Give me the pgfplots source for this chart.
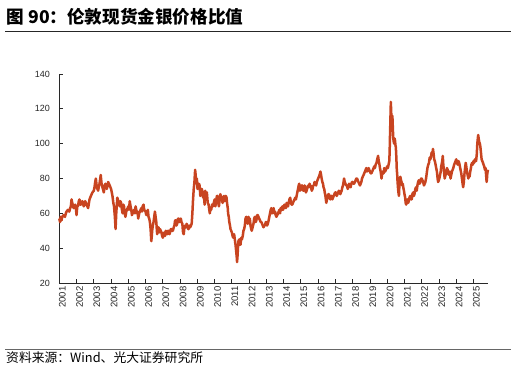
\documentclass[border=0pt]{standalone}
\usepackage{pgfplots}
\pgfplotsset{compat=1.18}
\usepackage{fontspec}
\setmainfont{Liberation Sans}
\newfontfamily\cjk{Noto Sans CJK SC}
\definecolor{goldred}{RGB}{200,68,32}
\definecolor{axisgray}{RGB}{40,40,40}
\begin{document}
\begin{tikzpicture}
\useasboundingbox (0pt,0pt) rectangle (516pt,-367pt);
\node[anchor=base west,inner sep=0pt] at (6.5pt,-23pt) {\cjk\bfseries\fontsize{17.6}{17.6}\selectfont 图 90：伦敦现货金银价格比值};
\draw[line width=1pt,black!85] (5pt,-31.7pt) -- (511pt,-31.7pt);
\draw[line width=0.8pt,black!60] (5pt,-349pt) -- (511pt,-349pt);
\node[anchor=base west,inner sep=0pt] at (6pt,-362pt) {\cjk\fontsize{12.8}{12.8}\selectfont 资料来源：Wind、光大证券研究所};
\begin{axis}[
  at={(59.3pt,-283pt)}, anchor=south west,
  scale only axis, width=428.7pt, height=209pt,
  xmin=2001, xmax=2025.84, ymin=20, ymax=140,
  ytick={20,40,60,80,100,120,140},
  xtick={2001,2002,...,2025},
  axis x line*=bottom, axis y line*=left,
  axis line style={axisgray,line width=0.8pt,-},
  tick style={axisgray,line width=0.8pt},
  tick align=inside, major tick length=4pt,
  /pgf/number format/assume math mode=true,
  /pgf/number format/1000 sep={},
  yticklabel style={font=\fontsize{9}{9}\selectfont,xshift=-6pt,text=black!85},
  xticklabel style={font=\fontsize{9.5}{9.5}\selectfont,rotate=90,anchor=east,yshift=-3pt,text=black!85},
  clip=false,
]
\addplot[goldred,line width=2.5pt,line join=round] coordinates {
(2001.00,57) (2001.04,55) (2001.08,58) (2001.13,56) (2001.17,58) (2001.25,59) (2001.33,58) (2001.38,60) (2001.42,61) (2001.50,62)
(2001.58,61) (2001.63,63) (2001.67,64) (2001.71,68) (2001.75,66) (2001.83,63) (2001.92,65) (2001.97,62) (2002.00,59) (2002.04,64)
(2002.08,64) (2002.13,67) (2002.17,68) (2002.21,65) (2002.25,65) (2002.33,67) (2002.42,64) (2002.50,67) (2002.58,65) (2002.67,63)
(2002.75,68) (2002.83,70) (2002.92,72) (2003.00,73) (2003.04,75) (2003.08,78) (2003.12,80) (2003.17,75) (2003.25,73) (2003.30,76)
(2003.33,77) (2003.40,82) (2003.45,77) (2003.50,75) (2003.58,72) (2003.63,76) (2003.67,77) (2003.75,74) (2003.80,76) (2003.83,78)
(2003.92,76) (2004.00,74) (2004.08,70) (2004.13,66) (2004.17,64) (2004.22,58) (2004.26,51) (2004.30,60) (2004.36,69) (2004.42,67)
(2004.50,64) (2004.54,67) (2004.58,66) (2004.63,62) (2004.67,60) (2004.71,65) (2004.75,64) (2004.79,60) (2004.83,58) (2004.88,61)
(2004.92,62) (2005.00,64) (2005.04,62) (2005.08,67) (2005.13,64) (2005.17,62) (2005.21,59) (2005.25,60) (2005.33,62) (2005.38,60)
(2005.42,64) (2005.50,60) (2005.54,61) (2005.57,57) (2005.63,60) (2005.67,61) (2005.75,63) (2005.79,61) (2005.83,64) (2005.88,65)
(2005.92,62) (2006.00,61) (2006.04,59) (2006.08,60) (2006.13,62) (2006.17,58) (2006.21,57) (2006.25,55) (2006.29,51) (2006.33,44)
(2006.36,47) (2006.38,50) (2006.42,53) (2006.46,55) (2006.50,58) (2006.54,61) (2006.58,58) (2006.62,55) (2006.67,48) (2006.71,51)
(2006.75,52) (2006.79,49) (2006.83,51) (2006.88,50) (2006.92,49) (2006.96,47) (2007.00,46) (2007.04,48) (2007.08,49) (2007.13,47)
(2007.17,50) (2007.21,49) (2007.25,48) (2007.29,50) (2007.33,50) (2007.38,48) (2007.42,49) (2007.46,51) (2007.50,51) (2007.54,50)
(2007.58,50) (2007.63,52) (2007.67,53) (2007.71,56) (2007.75,56) (2007.79,53) (2007.83,54) (2007.88,57) (2007.92,57) (2007.96,55)
(2008.00,56) (2008.04,57) (2008.08,55) (2008.13,54) (2008.17,49) (2008.21,48) (2008.25,52) (2008.29,53) (2008.33,52) (2008.38,54)
(2008.42,53) (2008.46,51) (2008.50,51) (2008.54,53) (2008.58,52) (2008.63,53) (2008.67,54) (2008.71,60) (2008.75,68) (2008.79,74)
(2008.83,78) (2008.87,85) (2008.90,82) (2008.94,77) (2008.97,80) (2009.01,74) (2009.05,75) (2009.09,77) (2009.13,76) (2009.17,70)
(2009.22,71) (2009.26,74) (2009.30,72) (2009.34,69) (2009.38,70) (2009.42,65) (2009.45,73) (2009.50,70) (2009.55,72) (2009.60,66)
(2009.65,65) (2009.69,62) (2009.72,60) (2009.76,63) (2009.80,62) (2009.85,65) (2009.90,64) (2009.95,66) (2010.00,68) (2010.04,64)
(2010.08,66) (2010.13,70) (2010.17,70) (2010.21,66) (2010.25,64) (2010.29,68) (2010.33,71) (2010.38,69) (2010.42,68) (2010.46,66)
(2010.50,69) (2010.54,70) (2010.58,67) (2010.62,69) (2010.65,70) (2010.69,69) (2010.72,66) (2010.76,63) (2010.78,60) (2010.82,58)
(2010.85,55) (2010.89,53) (2010.92,51) (2010.96,50) (2011.00,49) (2011.04,47) (2011.08,46) (2011.13,48) (2011.17,45) (2011.21,42)
(2011.25,38) (2011.28,35) (2011.30,32) (2011.33,36) (2011.35,40) (2011.38,44) (2011.42,45) (2011.46,42) (2011.50,42) (2011.54,46)
(2011.58,45) (2011.63,47) (2011.67,50) (2011.71,51) (2011.75,53) (2011.79,57) (2011.83,58) (2011.88,55) (2011.92,54) (2011.96,58)
(2012.00,56) (2012.04,57) (2012.08,53) (2012.12,51) (2012.15,50) (2012.20,52) (2012.25,54) (2012.29,57) (2012.33,58) (2012.38,55)
(2012.42,56) (2012.46,59) (2012.50,59) (2012.54,58) (2012.58,57) (2012.63,56) (2012.67,55) (2012.71,55) (2012.75,54) (2012.79,53)
(2012.83,52) (2012.88,53) (2012.92,53) (2012.96,55) (2013.00,55) (2013.04,53) (2013.08,54) (2013.13,56) (2013.17,58) (2013.21,60)
(2013.25,62) (2013.29,63) (2013.33,60) (2013.38,61) (2013.42,63) (2013.46,60) (2013.50,61) (2013.54,59) (2013.58,58) (2013.63,59)
(2013.67,60) (2013.71,61) (2013.75,62) (2013.79,60) (2013.83,63) (2013.88,62) (2013.92,64) (2013.96,62) (2014.00,63) (2014.04,65)
(2014.08,64) (2014.13,63) (2014.17,66) (2014.21,65) (2014.25,64) (2014.29,66) (2014.33,68) (2014.38,69) (2014.42,66) (2014.46,65)
(2014.50,65) (2014.54,66) (2014.58,67) (2014.63,68) (2014.67,69) (2014.71,68) (2014.75,70) (2014.79,72) (2014.83,74) (2014.87,76)
(2014.90,77) (2014.95,73) (2015.00,74) (2015.04,76) (2015.08,76) (2015.13,73) (2015.17,73) (2015.21,76) (2015.25,75) (2015.29,72)
(2015.33,73) (2015.38,75) (2015.42,76) (2015.46,75) (2015.50,77) (2015.54,76) (2015.58,75) (2015.63,73) (2015.67,74) (2015.71,76)
(2015.75,76) (2015.79,78) (2015.83,77) (2015.88,76) (2015.92,78) (2015.96,79) (2016.00,80) (2016.04,81) (2016.08,82) (2016.13,84)
(2016.17,82) (2016.20,80) (2016.24,78) (2016.28,77) (2016.31,75) (2016.35,74) (2016.38,72) (2016.42,70) (2016.47,66) (2016.51,68)
(2016.55,69) (2016.58,71) (2016.62,71) (2016.66,69) (2016.70,68) (2016.74,70) (2016.78,70) (2016.82,68) (2016.86,69) (2016.90,70)
(2016.94,71) (2016.98,72) (2017.03,72) (2017.07,70) (2017.12,71) (2017.16,72) (2017.20,73) (2017.24,72) (2017.28,71) (2017.32,72)
(2017.36,73) (2017.40,75) (2017.44,76) (2017.47,78) (2017.50,80) (2017.54,78) (2017.58,77) (2017.63,76) (2017.67,76) (2017.71,74)
(2017.75,75) (2017.79,77) (2017.83,76) (2017.88,75) (2017.92,77) (2017.96,78) (2018.00,78) (2018.04,77) (2018.08,77) (2018.13,78)
(2018.17,79) (2018.21,80) (2018.25,80) (2018.29,79) (2018.33,78) (2018.38,77) (2018.42,76) (2018.46,77) (2018.50,78) (2018.54,80)
(2018.58,81) (2018.63,82) (2018.67,83) (2018.71,84) (2018.75,85) (2018.79,86) (2018.83,84) (2018.88,85) (2018.92,86) (2018.96,85)
(2019.00,84) (2019.04,83) (2019.08,83) (2019.13,84) (2019.17,85) (2019.21,86) (2019.25,87) (2019.29,86) (2019.33,88) (2019.38,89)
(2019.42,91) (2019.47,93) (2019.51,90) (2019.55,88) (2019.58,86) (2019.62,84) (2019.67,80) (2019.71,83) (2019.75,84) (2019.79,83)
(2019.83,86) (2019.88,84) (2019.92,85) (2019.96,86) (2020.00,87) (2020.04,86) (2020.08,88) (2020.12,90) (2020.14,95) (2020.16,104)
(2020.18,112) (2020.20,120) (2020.21,124) (2020.23,118) (2020.25,115) (2020.28,112) (2020.30,116) (2020.33,108) (2020.35,103) (2020.38,101)
(2020.40,100) (2020.43,103) (2020.45,102) (2020.48,99) (2020.50,98) (2020.53,92) (2020.55,86) (2020.58,82) (2020.60,78) (2020.63,74)
(2020.65,72) (2020.68,70) (2020.70,75) (2020.73,79) (2020.76,81) (2020.80,79) (2020.83,78) (2020.87,76) (2020.90,77) (2020.93,75)
(2020.97,73) (2021.00,71) (2021.04,69) (2021.07,66) (2021.10,65) (2021.13,67) (2021.17,68) (2021.21,66) (2021.25,67) (2021.29,69)
(2021.33,70) (2021.38,68) (2021.42,68) (2021.46,71) (2021.50,72) (2021.54,70) (2021.58,71) (2021.63,74) (2021.67,75) (2021.71,73)
(2021.75,76) (2021.79,78) (2021.83,79) (2021.88,77) (2021.92,78) (2021.96,80) (2022.00,80) (2022.04,79) (2022.08,78) (2022.13,76)
(2022.17,77) (2022.21,78) (2022.25,80) (2022.29,83) (2022.33,86) (2022.38,88) (2022.42,89) (2022.46,92) (2022.50,91) (2022.54,93)
(2022.58,95) (2022.62,94) (2022.65,97) (2022.69,94) (2022.72,91) (2022.76,90) (2022.80,88) (2022.84,86) (2022.88,84) (2022.92,80)
(2022.95,78) (2022.99,79) (2023.02,80) (2023.06,82) (2023.10,84) (2023.13,87) (2023.17,89) (2023.20,91) (2023.22,93) (2023.25,88)
(2023.28,85) (2023.31,82) (2023.33,80) (2023.38,82) (2023.42,83) (2023.46,86) (2023.50,85) (2023.54,83) (2023.58,82) (2023.63,84)
(2023.67,80) (2023.71,82) (2023.75,84) (2023.79,85) (2023.83,86) (2023.88,88) (2023.92,89) (2023.96,90) (2024.00,91) (2024.04,89)
(2024.08,88) (2024.13,90) (2024.17,89) (2024.21,87) (2024.25,85) (2024.29,83) (2024.33,80) (2024.37,77) (2024.40,75) (2024.44,78)
(2024.47,82) (2024.51,86) (2024.55,89) (2024.58,87) (2024.62,84) (2024.66,82) (2024.70,80) (2024.73,82) (2024.77,81) (2024.81,84)
(2024.85,86) (2024.88,88) (2024.92,89) (2024.96,88) (2025.00,90) (2025.04,89) (2025.08,91) (2025.12,90) (2025.15,90) (2025.19,94)
(2025.22,100) (2025.25,103) (2025.27,105) (2025.30,103) (2025.33,101) (2025.37,100) (2025.40,98) (2025.44,94) (2025.47,91) (2025.51,90)
(2025.55,89) (2025.58,88) (2025.62,87) (2025.66,85) (2025.70,86) (2025.73,82) (2025.76,78) (2025.78,80) (2025.80,83) (2025.84,85)
};
\end{axis}
\end{tikzpicture}
\end{document}
